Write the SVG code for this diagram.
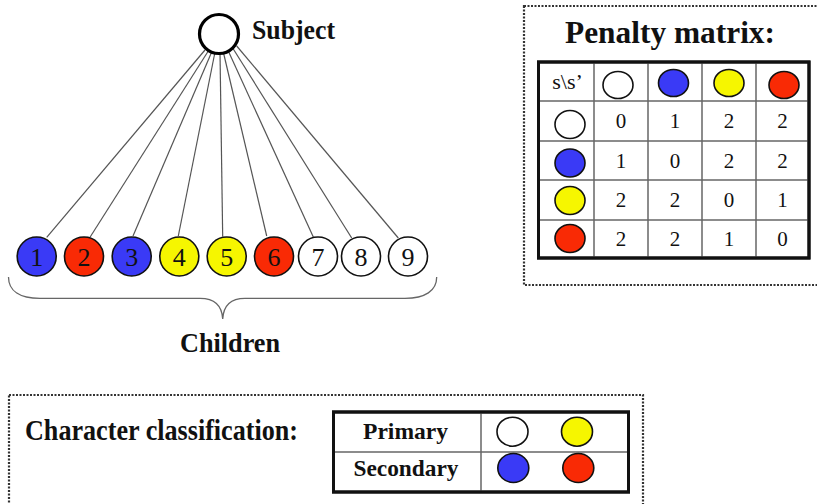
<svg xmlns="http://www.w3.org/2000/svg" width="817" height="504" viewBox="0 0 817 504">
  <style>
    .bg { fill: #ffffff; }
    .edge { stroke: #555; stroke-width: 1.2; fill: none; }
    .brace { stroke: #666; stroke-width: 1.3; fill: none; }
    .dotbox { fill: none; stroke: #333; stroke-width: 2.2; stroke-dasharray: 2 1.5; }
    .outer { fill: #fff; stroke: #111; stroke-width: 3; }
    .grid { stroke: #666; stroke-width: 1.5; fill: none; }
    .dot { stroke: #111; stroke-width: 1.6; }
    .white { fill: #ffffff; }
    .blue { fill: #3a3af6; }
    .red { fill: #f92a05; }
    .yellow { fill: #f6f600; }
    .title { font-family: "Liberation Serif", "Times New Roman", serif; font-weight: bold; fill: #111; }
    .num { font-family: "Liberation Serif", "Times New Roman", serif; fill: #111; text-anchor: middle; }
  </style>

  <rect class="bg" x="0" y="0" width="817" height="504"/>

  <!-- connectors from the subject to each child -->
  <g id="connectors">
    <line class="edge" x1="205" y1="50" x2="46.7" y2="237.3"/>
    <line class="edge" x1="208.3" y1="51" x2="90" y2="237.3"/>
    <line class="edge" x1="211.7" y1="52" x2="133" y2="236"/>
    <line class="edge" x1="215" y1="52" x2="178.3" y2="236"/>
    <line class="edge" x1="220" y1="52" x2="222.7" y2="236.5"/>
    <line class="edge" x1="223.3" y1="52" x2="266.7" y2="236"/>
    <line class="edge" x1="228.3" y1="51" x2="313.3" y2="237"/>
    <line class="edge" x1="233.3" y1="49" x2="351.7" y2="238"/>
    <line class="edge" x1="236.7" y1="46" x2="398.3" y2="238"/>
  </g>

  <g id="subject">
    <circle cx="219" cy="34" r="19.5" fill="#fff" stroke="#000" stroke-width="3.2"/>
    <text class="title" x="252" y="39" font-size="27" textLength="83" lengthAdjust="spacingAndGlyphs">Subject</text>
  </g>

  <g id="child-1"><circle class="dot blue" cx="36.7" cy="256.5" r="19.5"/><text class="num" x="36.7" y="265.5" font-size="26">1</text></g>
  <g id="child-2"><circle class="dot red" cx="84" cy="256.5" r="19.5"/><text class="num" x="84" y="265.5" font-size="26">2</text></g>
  <g id="child-3"><circle class="dot blue" cx="131.7" cy="256.5" r="19.5"/><text class="num" x="131.7" y="265.5" font-size="26">3</text></g>
  <g id="child-4"><circle class="dot yellow" cx="179.3" cy="256.5" r="19.5"/><text class="num" x="179.3" y="265.5" font-size="26">4</text></g>
  <g id="child-5"><circle class="dot yellow" cx="226.7" cy="256.5" r="19.5"/><text class="num" x="226.7" y="265.5" font-size="26">5</text></g>
  <g id="child-6"><circle class="dot red" cx="274" cy="256.5" r="19.5"/><text class="num" x="274" y="265.5" font-size="26">6</text></g>
  <g id="child-7"><circle class="dot white" cx="318" cy="256.5" r="19.5"/><text class="num" x="318" y="265.5" font-size="26">7</text></g>
  <g id="child-8"><circle class="dot white" cx="361" cy="256.5" r="19.5"/><text class="num" x="361" y="265.5" font-size="26">8</text></g>
  <g id="child-9"><circle class="dot white" cx="408" cy="256.5" r="19.5"/><text class="num" x="408" y="265.5" font-size="26">9</text></g>

  <g id="children-brace">
    <path class="brace" d="M 8.5 277 C 8.5 291, 20 298.3, 40 298.3 L 200 298.3 C 215 298.3, 222 306, 222.7 319 C 223.4 306, 230 298.3, 245 298.3 L 405 298.3 C 425 298.3, 436.7 291, 436.7 277"/>
    <text class="title" x="180" y="352" font-size="27" textLength="100" lengthAdjust="spacingAndGlyphs">Children</text>
  </g>

  <!-- penalty matrix panel -->
  <g id="penalty-matrix">
    <rect class="dotbox" x="524" y="6" width="310" height="279"/>
    <text class="title" x="565" y="43" font-size="31" textLength="210" lengthAdjust="spacingAndGlyphs">Penalty matrix:</text>
    <rect class="outer" x="538.5" y="62" width="270.5" height="196"/>
    <g class="grid">
      <line x1="594" y1="62" x2="594" y2="258"/>
      <line x1="648" y1="62" x2="648" y2="258"/>
      <line x1="702" y1="62" x2="702" y2="258"/>
      <line x1="756" y1="62" x2="756" y2="258"/>
      <line x1="538.5" y1="101" x2="809" y2="101"/>
      <line x1="538.5" y1="141" x2="809" y2="141"/>
      <line x1="538.5" y1="180" x2="809" y2="180"/>
      <line x1="538.5" y1="220" x2="809" y2="220"/>
    </g>
    <rect x="538.5" y="62" width="270.5" height="196" fill="none" stroke="#111" stroke-width="3"/>
    <text class="num" x="567.5" y="88.5" font-size="22">s\s’</text>
    <!-- header swatches -->
    <ellipse class="dot white" cx="618" cy="85" rx="15" ry="13.5"/>
    <ellipse class="dot blue" cx="673.5" cy="83" rx="15" ry="13.5"/>
    <ellipse class="dot yellow" cx="729" cy="83" rx="15" ry="13.5"/>
    <ellipse class="dot red" cx="784" cy="85" rx="15" ry="13.5"/>
    <!-- row swatches -->
    <ellipse class="dot white" cx="570" cy="124.5" rx="15" ry="14"/>
    <ellipse class="dot blue" cx="570" cy="163" rx="15" ry="14"/>
    <ellipse class="dot yellow" cx="570" cy="200.5" rx="15" ry="14"/>
    <ellipse class="dot red" cx="570" cy="238.5" rx="15" ry="14"/>
    <!-- penalty values -->
    <g font-size="21">
      <text class="num" x="621" y="127.5">0</text><text class="num" x="675" y="127.5">1</text><text class="num" x="729" y="127.5">2</text><text class="num" x="782.5" y="127.5">2</text>
      <text class="num" x="621" y="167.5">1</text><text class="num" x="675" y="167.5">0</text><text class="num" x="729" y="167.5">2</text><text class="num" x="782.5" y="167.5">2</text>
      <text class="num" x="621" y="207">2</text><text class="num" x="675" y="207">2</text><text class="num" x="729" y="207">0</text><text class="num" x="782.5" y="207">1</text>
      <text class="num" x="621" y="245.5">2</text><text class="num" x="675" y="245.5">2</text><text class="num" x="729" y="245.5">1</text><text class="num" x="782.5" y="245.5">0</text>
    </g>
  </g>

  <!-- character classification panel -->
  <g id="character-classification">
    <rect class="dotbox" x="9" y="395" width="634" height="125"/>
    <text class="title" x="25" y="440" font-size="29" textLength="273" lengthAdjust="spacingAndGlyphs">Character classification:</text>
    <rect class="outer" x="333.5" y="412" width="295" height="80"/>
    <line class="grid" x1="481" y1="412" x2="481" y2="492"/>
    <line class="grid" x1="333.5" y1="452" x2="628.5" y2="452"/>
    <rect x="333.5" y="412" width="295" height="80" fill="none" stroke="#111" stroke-width="3"/>
    <text class="title" x="363" y="438.5" font-size="24" textLength="85" lengthAdjust="spacingAndGlyphs">Primary</text>
    <text class="title" x="353.5" y="476" font-size="24" textLength="105" lengthAdjust="spacingAndGlyphs">Secondary</text>
    <ellipse class="dot white" cx="512.5" cy="431.7" rx="15.5" ry="14.5"/>
    <ellipse class="dot yellow" cx="577" cy="431.7" rx="15.5" ry="14.5"/>
    <ellipse class="dot blue" cx="513.3" cy="468" rx="15.5" ry="14.5"/>
    <ellipse class="dot red" cx="578.3" cy="468" rx="15.5" ry="14.5"/>
  </g>
</svg>
